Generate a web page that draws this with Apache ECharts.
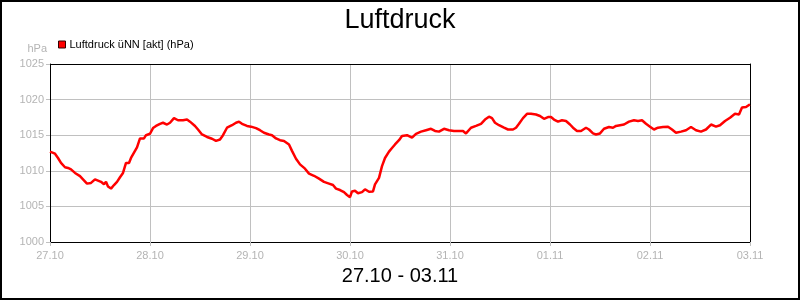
<!DOCTYPE html>
<html>
<head>
<meta charset="utf-8">
<script src="https://cdn.jsdelivr.net/npm/echarts@6/dist/echarts.min.js"></script>
<style>
html,body{margin:0;padding:0;background:#fff;}
#chart{width:800px;height:300px;}
</style>
</head>
<body>
<div id="chart"></div>
<script>
// Data (x in days since 27.10 00:00)
const titleText = 'Luftdruck';
const subtitleText = '27.10 - 03.11';
const seriesName = 'Luftdruck üNN [akt] (hPa)';
const unitLabel = 'hPa';
const xTickLabels = ['27.10','28.10','29.10','30.10','31.10','01.11','02.11','03.11'];
const days = [0.00,0.05,0.08,0.11,0.15,0.18,0.21,0.25,0.30,0.33,0.37,0.41,0.45,0.47,0.51,0.54,0.56,0.58,0.61,0.64,0.67,0.70,0.73,0.76,0.79,0.81,0.85,0.87,0.90,0.94,0.96,1.00,1.03,1.06,1.10,1.13,1.17,1.20,1.24,1.28,1.33,1.37,1.40,1.45,1.48,1.52,1.57,1.62,1.66,1.70,1.73,1.77,1.82,1.86,1.89,1.92,1.97,2.01,2.06,2.10,2.14,2.19,2.22,2.26,2.30,2.34,2.36,2.39,2.42,2.46,2.50,2.55,2.59,2.64,2.69,2.74,2.79,2.83,2.86,2.90,2.94,2.97,3.00,3.02,3.05,3.08,3.12,3.15,3.19,3.23,3.25,3.29,3.32,3.35,3.39,3.42,3.45,3.49,3.52,3.57,3.62,3.66,3.71,3.76,3.81,3.85,3.89,3.94,3.99,4.04,4.09,4.13,4.16,4.21,4.26,4.31,4.35,4.39,4.42,4.45,4.49,4.54,4.58,4.63,4.66,4.69,4.73,4.77,4.81,4.86,4.90,4.94,4.98,5.01,5.04,5.08,5.12,5.16,5.20,5.23,5.27,5.31,5.36,5.39,5.43,5.46,5.50,5.54,5.59,5.63,5.66,5.70,5.74,5.79,5.84,5.88,5.92,5.96,6.00,6.04,6.08,6.13,6.18,6.22,6.26,6.31,6.36,6.41,6.46,6.51,6.56,6.61,6.66,6.70,6.75,6.80,6.85,6.89,6.92,6.96,6.99,7.00];
const pressure = [1012.7,1012.4,1011.8,1011.1,1010.5,1010.4,1010.2,1009.7,1009.25,1008.8,1008.2,1008.3,1008.8,1008.9,1008.45,1008.1,1008.45,1007.8,1007.5,1008.0,1008.45,1009.1,1009.7,1011.1,1011.1,1011.8,1012.8,1013.3,1014.55,1014.55,1015.0,1015.2,1016.0,1016.3,1016.6,1016.75,1016.5,1016.75,1017.4,1017.1,1017.1,1017.2,1016.9,1016.3,1015.8,1015.1,1014.75,1014.5,1014.2,1014.4,1015.0,1016.05,1016.4,1016.75,1016.9,1016.6,1016.3,1016.2,1016.0,1015.7,1015.35,1015.1,1015.0,1014.55,1014.3,1014.2,1014.2,1013.7,1012.8,1011.7,1010.9,1010.3,1009.6,1009.3,1008.9,1008.45,1008.2,1008.0,1007.5,1007.3,1007.0,1006.6,1006.3,1007.1,1007.2,1006.85,1007.0,1007.4,1007.05,1007.1,1008.1,1009.0,1010.65,1011.8,1012.7,1013.2,1013.7,1014.3,1014.9,1015.0,1014.65,1015.2,1015.5,1015.7,1015.9,1015.6,1015.5,1015.9,1015.7,1015.6,1015.6,1015.6,1015.25,1016.05,1016.3,1016.6,1017.2,1017.6,1017.4,1016.75,1016.4,1016.05,1015.8,1015.8,1016.05,1016.6,1017.4,1018.0,1018.0,1017.9,1017.7,1017.3,1017.55,1017.55,1017.2,1016.9,1017.1,1017.0,1016.5,1016.05,1015.6,1015.6,1016.05,1015.8,1015.25,1015.1,1015.25,1015.9,1016.15,1016.05,1016.3,1016.4,1016.5,1016.9,1017.1,1017.0,1017.1,1016.6,1016.2,1015.8,1016.05,1016.15,1016.2,1015.8,1015.35,1015.5,1015.7,1016.15,1015.7,1015.5,1015.8,1016.5,1016.2,1016.4,1017.0,1017.45,1018.0,1017.9,1018.9,1018.97,1019.25,1019.3];

const seriesData = days.map((d, i) => [d, pressure[i]]);
const font = '"Liberation Sans", Arial, sans-serif';
const labelGray = '#b4b4b4';
const gridGray = '#c0c0c0';

const chart = echarts.init(document.getElementById('chart'), null, {renderer: 'canvas'});
chart.setOption({
  animation: false,
  backgroundColor: '#ffffff',
  title: [
    {text: titleText, left: 'center', top: 2, textStyle: {fontFamily: font, fontSize: 27, fontWeight: 'normal', color: '#000'}},
    {text: subtitleText, left: 'center', top: 261, textStyle: {fontFamily: font, fontSize: 20, fontWeight: 'normal', color: '#000'}}
  ],
  legend: {
    left: 53, top: 34,
    icon: 'rect', itemWidth: 7, itemHeight: 7,
    itemStyle: {borderColor: '#300', borderWidth: 1},
    textStyle: {fontFamily: font, fontSize: 11, color: '#000', padding: [0,0,0,-1]},
    data: [seriesName]
  },
  grid: {left: 50, right: 50, top: 64, bottom: 58, show: false},
  xAxis: [{
    type: 'value', min: 0, max: 7, interval: 1,
    axisLine: {show: true, onZero: false, lineStyle: {color: '#000', width: 1}},
    axisTick: {show: true, length: 4, lineStyle: {color: gridGray}},
    axisLabel: {margin: 8, color: labelGray, fontFamily: font, fontSize: 11,
      formatter: v => xTickLabels[Math.round(v)] || ''},
    splitLine: {show: true, showMinLine: false, showMaxLine: false, lineStyle: {color: gridGray, width: 1}}
  }, {
    type: 'value', min: 0, max: 7, interval: 1, position: 'top',
    axisLine: {show: true, onZero: false, lineStyle: {color: '#000', width: 1}},
    axisTick: {show: false}, axisLabel: {show: false}, splitLine: {show: false}
  }],
  yAxis: [{
    type: 'value', min: 1000, max: 1025, interval: 5,
    name: unitLabel, nameLocation: 'end', nameGap: 10,
    nameTextStyle: {color: labelGray, fontFamily: font, fontSize: 11, align: 'right', padding: [0, 3, 0, 0]},
    axisLine: {show: true, onZero: false, lineStyle: {color: '#000', width: 1}},
    axisTick: {show: true, length: 4, lineStyle: {color: gridGray}},
    axisLabel: {margin: 6, color: labelGray, fontFamily: font, fontSize: 11, formatter: v => String(v)},
    splitLine: {show: true, showMinLine: false, showMaxLine: false, lineStyle: {color: gridGray, width: 1}}
  }, {
    type: 'value', min: 1000, max: 1025, interval: 5, position: 'right',
    axisLine: {show: true, onZero: false, lineStyle: {color: '#000', width: 1}},
    axisTick: {show: false}, axisLabel: {show: false}, splitLine: {show: false}
  }],
  series: [{
    name: seriesName, type: 'line', data: seriesData,
    xAxisIndex: 0, yAxisIndex: 0,
    showSymbol: false, symbol: 'none',
    itemStyle: {color: '#ff0000'},
    lineStyle: {color: '#ff0000', width: 2.5},
    z: 5
  }],
  graphic: [{
    type: 'rect', silent: true, z: 100,
    shape: {x: 1, y: 1, width: 798, height: 298},
    style: {fill: 'none', stroke: '#000', lineWidth: 2}
  }]
});
</script>
</body>
</html>
